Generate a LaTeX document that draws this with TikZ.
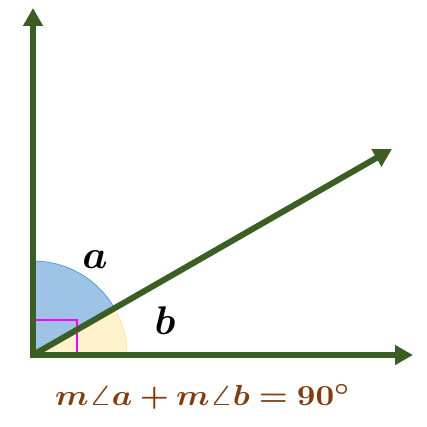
\documentclass[tikz,border=0pt]{standalone}
\usepackage{bm}
\usetikzlibrary{arrows.meta}
\definecolor{lgreen}{HTML}{3B5E23}
\definecolor{sblue}{HTML}{9DC3E6}
\definecolor{sblueb}{HTML}{5B9BD5}
\definecolor{syel}{HTML}{FFF2CC}
\definecolor{syelb}{HTML}{FFE699}
\definecolor{brn}{HTML}{843C0C}
\definecolor{mgt}{HTML}{FF00FF}
\tikzset{
  ray/.style={line width=6pt, color=lgreen, -{Triangle[width=19pt,length=18pt]}},
  lbl/.style={scale=4, transform shape, inner sep=0pt}
}
\begin{document}
\begin{tikzpicture}[x=1pt,y=1pt]
\useasboundingbox (0,0) rectangle (427,426);
\coordinate (O) at (33,71);
\coordinate (V) at (33,418);
\coordinate (H) at (413,71);
\coordinate (D) at (392,277);
\filldraw[fill=syel, draw=syelb, line width=0.8pt] (O) -- ++(0:94) arc[start angle=0, end angle=29.8, radius=94] -- cycle;
\filldraw[fill=sblue, draw=sblueb, line width=0.8pt] (O) -- ++(29.8:94) arc[start angle=29.8, end angle=90, radius=94] -- cycle;
\draw[mgt, line width=2.5pt] (35,106) -- (77,106) -- (77,71);
\draw[ray] (O) -- (V);
\draw[ray] ([xshift=-3pt]O) -- (H);
\draw[ray] (O) -- (D);
\node[lbl] (a) at (95,166) {$\bm{a}$};
\node[lbl] (b) at (165,105) {$\bm{b}$};
\node[xscale=3.25, yscale=2.9, transform shape, text=brn, inner sep=0pt] (eq) at (203,29) {$\bm{m\angle a + m\angle b = 90^\circ}$};
\end{tikzpicture}
\end{document}
